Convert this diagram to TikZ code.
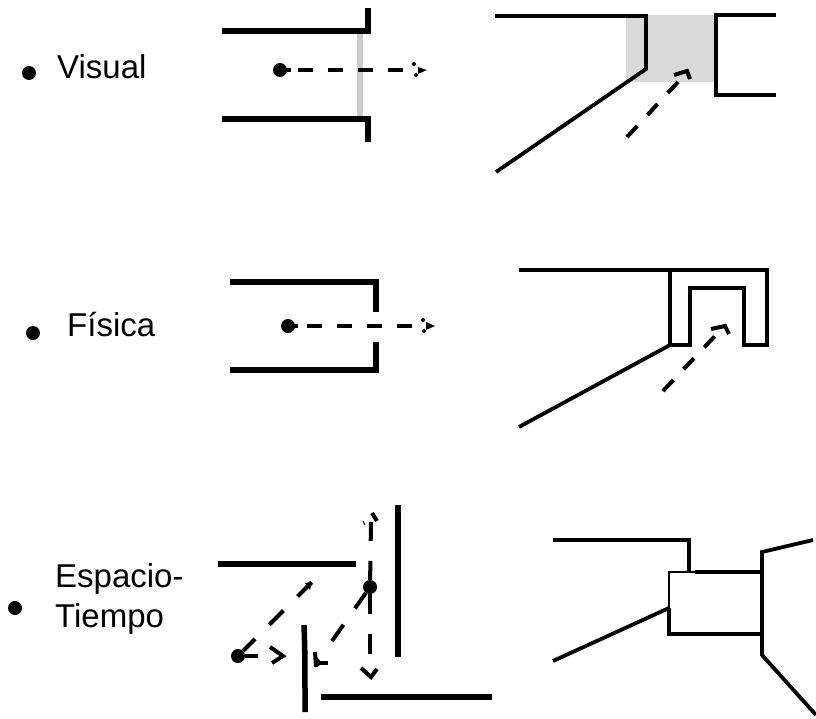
\documentclass[tikz,border=0pt]{standalone}
\usepackage{fontspec}
\setmainfont{Liberation Sans}
\tikzset{
  wall/.style={line width=5.5pt},
  outline/.style={line width=3.8pt, line join=miter},
  ray/.style={line width=4pt, dash pattern=on 15pt off 15pt},
  longray/.style={line width=4pt, dash pattern=on 20pt off 20pt},
  raytip/.style={line width=4pt},
  source/.style={circle, fill=black, inner sep=0pt, minimum size=14pt},
  bullet/.style={circle, fill=black, inner sep=0pt, minimum size=14pt},
  caption/.style={inner sep=0pt, anchor=base west, font=\fontsize{33}{38}\selectfont}
}
\begin{document}
\begin{tikzpicture}[x=1pt, y=-1pt]
    \useasboundingbox (0,0) rectangle (816,718);

    % Labels
    \node[bullet] (B1) at (29,73) {};
    \node[caption] (L1) at (57,78) {Visual};
    \node[bullet] (B2) at (33,333) {};
    \node[caption] (L2) at (67,336) {Física};
    \node[bullet] (B3) at (15,608) {};
    \node[caption] (L3) at (55,587) {Espacio-};
    \node[caption] (L4) at (55,627) {Tiempo};

    % Top row
    \fill[gray!40] (357,31) rectangle (363,119);
    \draw[wall] (222,31) -- (368,31) -- (368,8);
    \draw[wall] (222,119) -- (368,119) -- (368,142);
    \node[source] (S1) at (280,70) {};
    \coordinate (T1) at (403,70);
    \draw[ray, dash phase=12pt] (S1.center) -- (T1);
    \draw[raytip] (S1.center) -- (291,70);
    \fill (414,64) circle (2pt) (416,75) circle (2pt);
    \fill (418,67) -- (427,70) -- (418,74) -- cycle;

    \fill[gray!30] (626,15) rectangle (714,82);
    \draw[outline] (495,16) -- (646,16) -- (646,69) -- (496,172);
    \draw[outline] (776,15) -- (716,15) -- (716,95) -- (776,95);
    \coordinate (S2) at (627,137);
    \coordinate (T2) at (678,82);
    \draw[ray] (S2) -- (T2);
    \draw[raytip] (674,75) -- (687,71) -- (690,79);

    % Middle row
    \draw[wall] (230,282) -- (376,282) -- (376,312);
    \draw[wall] (230,370) -- (376,370) -- (376,342);
    \node[source] (S3) at (288,326) {};
    \coordinate (T3) at (412,326);
    \draw[ray, dash phase=11pt] (S3.center) -- (T3);
    \draw[raytip] (S3.center) -- (298,326);
    \fill (423,320) circle (2pt) (424,331) circle (2pt);
    \fill (426,322) -- (435,326) -- (426,330) -- cycle;

    \draw[outline] (519,270) -- (767,270) -- (767,345) -- (744,345) -- (744,288)
        -- (690,288) -- (690,345) -- (670,345) -- (670,270);
    \draw[outline] (670,345) -- (519,427);
    \coordinate (S4) at (663,391);
    \coordinate (T4) at (715,336);
    \draw[ray] (S4) -- (T4);
    \draw[raytip] (711,329) -- (725,326) -- (729,334);

    % Bottom row
    \draw[wall] (218,564) -- (356,564);
    \draw[wall] (398,505) -- (398,657);
    \draw[wall] (321,697) -- (492,697);
    \draw[wall] (304,625) .. controls (305,655) .. (305,712);
    \node[source] (S5) at (238,656) {};
    \node[source] (S6) at (370,587) {};
    \coordinate (T5) at (312,582);
    \coordinate (T6) at (258,656);
    \coordinate (T7) at (332,641);
    \coordinate (T8) at (371,522);
    \coordinate (T9) at (370,654);
    \draw[longray, dash phase=3pt] (S5) -- (T5);
    \draw[raytip] (S5) -- (T6);
    \draw[longray, dash phase=1pt] (S6) -- (T7);
    \draw[longray, dash phase=1pt] (S6) -- (T8);
    \draw[longray] (S6) -- (T9);
    \draw[raytip] (270,647) -- (283,656) -- (272,663);
    \draw[raytip] (315,652) -- (316,667);
    \draw[raytip] (316,663) -- (328,663);
    \fill (315,655) -- (323,664) -- (315,667) -- cycle;
    \draw[raytip] (361,668) -- (371,677) -- (377,669);
    \draw[raytip] (372,513) -- (377,521);
    \draw[line width=1pt] (363,521) -- (365,525);
    \fill (305,583) -- (312,582) -- (310,590) -- cycle;

    \draw[outline] (553,540) -- (689,540) -- (689,572);
    \draw[line width=1.8pt] (695,572) -- (669,572) -- (669,608);
    \draw[outline] (695,572) -- (762,572);
    \draw[outline] (669,608) -- (669,634) -- (762,634);
    \draw[outline] (669,608) -- (553,661);
    \draw[outline] (813,540) -- (762,552) -- (762,655) -- (816,715);
\end{tikzpicture}
\end{document}
